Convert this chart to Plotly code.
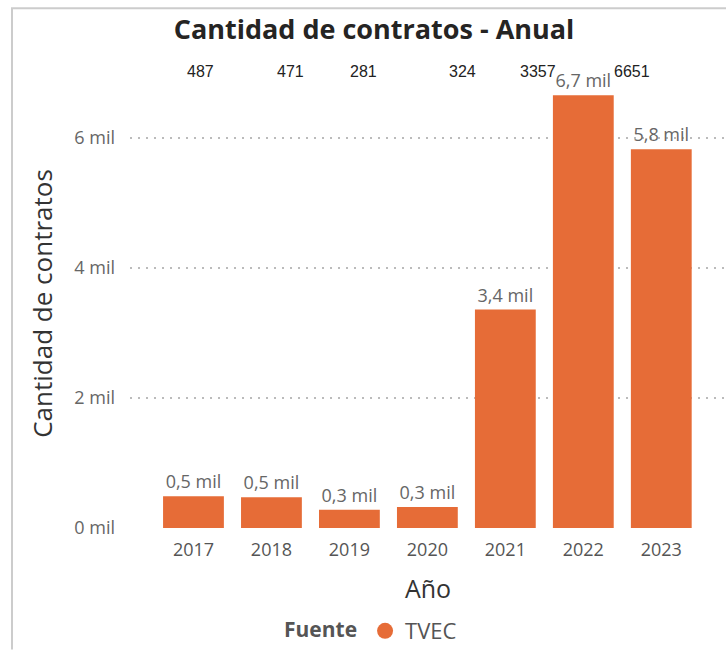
import plotly.graph_objects as go

# Contract counts per year (source: TVEC)
years = ["2017", "2018", "2019", "2020", "2021", "2022", "2023"]
contracts = [487, 471, 281, 324, 3357, 6651, 5820]
# Raw counts shown in the header row above the chart
header_counts = [487, 471, 281, 324, 3357, 6651]
header_x_px = [200, 290, 363, 462, 538, 632]

y_ticks = [0, 2000, 4000, 6000]
y_tick_text = ["0 mil", "2 mil", "4 mil", "6 mil"]

W, H = 726, 652
ML, MR, MT, MB = 130, 0, 79, 122
FONT = "Open Sans"
ORANGE = "#E66C37"


def mil(v):
    return f"{v / 1000:.1f}".replace(".", ",") + " mil"


fig = go.Figure()
fig.add_trace(go.Bar(
    x=list(range(len(years))),
    y=contracts,
    name="TVEC",
    marker=dict(color=ORANGE, line=dict(width=0)),
    text=[mil(v) for v in contracts],
    textposition="outside",
    textfont=dict(family=FONT, size=18, color="#666666"),
    cliponaxis=False,
    showlegend=False,
))
# Round legend marker
fig.add_trace(go.Scatter(
    x=[None], y=[None], mode="markers", name="TVEC",
    marker=dict(color=ORANGE, size=16, symbol="circle"),
))

pw = W - ML - MR
ph = H - MT - MB


def px_to_paper_y(py):
    return (H - MB - py) / ph


def px_to_paper_x(px):
    return (px - ML) / pw


annotations = []
for v, px in zip(header_counts, header_x_px):
    annotations.append(dict(
        x=px_to_paper_x(px), y=px_to_paper_y(71), xref="paper", yref="paper",
        text=str(v), showarrow=False,
        font=dict(family="Liberation Sans, Arial", size=16, color="#222222"),
        xanchor="center", yanchor="middle",
    ))

fig.update_layout(
    width=W, height=H,
    margin=dict(l=ML, r=MR, t=MT, b=MB),
    paper_bgcolor="white", plot_bgcolor="white",
    title=dict(
        text="<b>Cantidad de contratos - Anual</b>",
        x=374 / W, xanchor="center", y=1 - 30 / H, yanchor="middle",
        font=dict(family=FONT, size=27, color="#252423"),
    ),
    bargap=0.22,
    xaxis=dict(
        range=[-0.814, 6.83],
        tickvals=list(range(len(years))), ticktext=years,
        showgrid=False, zeroline=False, showline=False, ticks="",
        ticklabelstandoff=9,
        tickfont=dict(family=FONT, size=18, color="#555555"),
        title=dict(text="Año", font=dict(family=FONT, size=25, color="#333333"), standoff=20),
    ),
    yaxis=dict(
        range=[0, 6900],
        tickvals=y_ticks, ticktext=y_tick_text,
        showgrid=True, gridcolor="#BBBBBB", griddash="2px,6px", gridwidth=1.5,
        zeroline=False, showline=False, ticks="",
        ticklabelstandoff=14,
        tickfont=dict(family=FONT, size=18, color="#666666"),
        title=dict(text="Cantidad de contratos",
                   font=dict(family=FONT, size=26, color="#333333"), standoff=14),
    ),
    legend=dict(
        orientation="h", x=px_to_paper_x(282), xanchor="left",
        y=px_to_paper_y(634), yanchor="middle",
        title=dict(text="<b>Fuente</b>", font=dict(family=FONT, size=21, color="#555555")),
        font=dict(family=FONT, size=22, color="#555555"),
        itemwidth=30,
    ),
    annotations=annotations,
    shapes=[
        dict(type="line", xref="paper", yref="paper",
             x0=px_to_paper_x(12), x1=px_to_paper_x(12),
             y0=px_to_paper_y(8), y1=px_to_paper_y(H),
             line=dict(color="#CCCCCC", width=2)),
        dict(type="line", xref="paper", yref="paper",
             x0=px_to_paper_x(11), x1=1.0,
             y0=px_to_paper_y(8), y1=px_to_paper_y(8),
             line=dict(color="#CCCCCC", width=2)),
    ],
)

fig.write_html("out.html")
